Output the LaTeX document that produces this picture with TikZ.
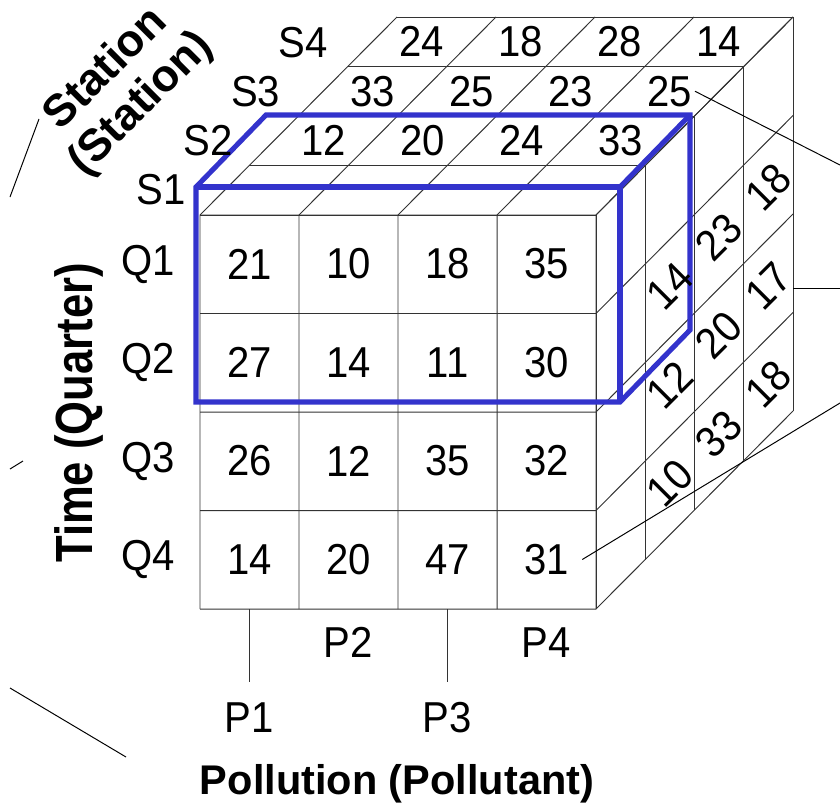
\documentclass[tikz,border=0pt]{standalone}
\usepackage{fontspec}
\setmainfont{Liberation Sans}
\usetikzlibrary{positioning}
\definecolor{sliceblue}{HTML}{3333CC}
\definecolor{gridgray}{HTML}{333333}
\tikzset{
  grid line/.style={
    draw=gridgray,
    line width=0.7pt,
  },
  slice/.style={
    draw=sliceblue,
    line width=3.6pt,
  },
  cell/.style={
    font=\fontsize{28.5pt}{34pt}\selectfont,
    inner sep=2pt,
    yscale=1.08,
  },
  side cell/.style={
    font=\fontsize{28.5pt}{34pt}\selectfont,
    inner sep=2pt,
    rotate=45,
    yscale=1.08,
  },
  axis label/.style={
    font=\fontsize{29.5pt}{34.9pt}\selectfont\bfseries,
    align=center,
  },
  callout/.style={
    draw=black,
    line width=0.7pt,
  },
}

\begin{document}
\begin{tikzpicture}[x=0.025cm, y=-0.025cm]
  \useasboundingbox (0,0) rectangle (840,803);

  % cube grid
  \foreach \i in {0,...,4} {
    \draw[grid line] (200,215+98.5*\i) -- ++(396,0) -- ++(197,-198);
    \draw[grid line] (200+99*\i,609) -- ++(0,-394) -- ++(197,-198);
    \draw[grid line] (200+49.25*\i,215-49.5*\i) -- ++(396,0) -- ++(0,394);
  }

  % highlighted slice
  \draw[slice] (196,402) -- (196,187) -- (266,115) -- (690,115) -- (690,330) -- (620,402) -- cycle;
  \draw[slice] (196,187) -- (620,187) -- (620,402);
  \draw[slice] (620,187) -- (690,115);

  % front face (S1)
  \foreach \row [count=\i from 0] in {{21,10,18,35},{27,14,11,30},{26,12,35,32},{14,20,47,31}}
    \foreach \v [count=\j from 0] in \row
      \node[cell] (f-\i-\j) at (249.5+99*\j,264+98.5*\i) {\v};

  % top face (S2--S4)
  \foreach \row [count=\k from 1] in {{12,20,24,33},{33,25,23,25},{24,18,28,14}}
    \foreach \v [count=\j from 0] in \row
      \node[cell] (t-\k-\j) at (274.1+49.25*\k+99*\j,190.25-49.5*\k) {\v};

  % right face (P4 side)
  \foreach \col [count=\k from 1] in {{14,12,10},{23,20,33},{18,17,18}}
    \foreach \v [count=\i from 1] in \col
      \node[side cell] (r-\k-\i) at (620.6+49.25*\k,237.25+98.5*\i-49.5*\k) {\v};

  % members
  \foreach \k in {1,...,4}
    \node[cell] (s\k) at (161+47.3*\k-47.3,239.3-49.3*\k) {S\k};
  \foreach \i [count=\n from 1] in {0,...,3}
    \node[cell, left=1.15cm of f-\i-0] (q\n) {Q\n};
  \node[cell, below=1.15cm of f-3-1] (p2) {P2};
  \node[cell, below=1.15cm of f-3-3] (p4) {P4};
  \node[cell, below=3.03cm of f-3-0] (p1) {P1};
  \node[cell, below=3.03cm of f-3-2] (p3) {P3};

  \coordinate (base1) at (249.5,609);
  \coordinate (base3) at (447.5,609);
  \draw[grid line, shorten >=0.42cm] (base1) -- (base1 |- p1.north);
  \draw[grid line, shorten >=0.42cm] (base3) -- (base3 |- p3.north);

  % dimension names
  \node[axis label, font=\fontsize{31pt}{36pt}\selectfont\bfseries, rotate=90, yscale=1.2] (timelbl) at (79,413) {Time (Quarter)};
  \node[axis label, font=\fontsize{32pt}{34.9pt}\selectfont\bfseries, rotate=45] (stationlbl) at (124,87) {Station\\(Station)};
  \node[axis label] (pollutionlbl) at (397,784) {Pollution (Pollutant)};

  % callouts
  \coordinate (c-top) at (840,165);
  \coordinate (c-side) at (793,288);
  \coordinate (c-side-end) at (840,288);
  \coordinate (c-front) at (840,403);
  \draw[callout] (t-2-3.east) -- (c-top);
  \draw[callout] (c-side) -- (c-side-end);
  \draw[callout] ([xshift=2.6mm]f-3-3.east) -- (c-front);

  \coordinate (l1a) at (39,119);
  \coordinate (l1b) at (10,197);
  \coordinate (l2a) at (23,461);
  \coordinate (l2b) at (10,469);
  \coordinate (l3a) at (10,688);
  \coordinate (l3b) at (126,757);
  \draw[callout] (l1a) -- (l1b);
  \draw[callout] (l2a) -- (l2b);
  \draw[callout] (l3a) -- (l3b);
\end{tikzpicture}
\end{document}
